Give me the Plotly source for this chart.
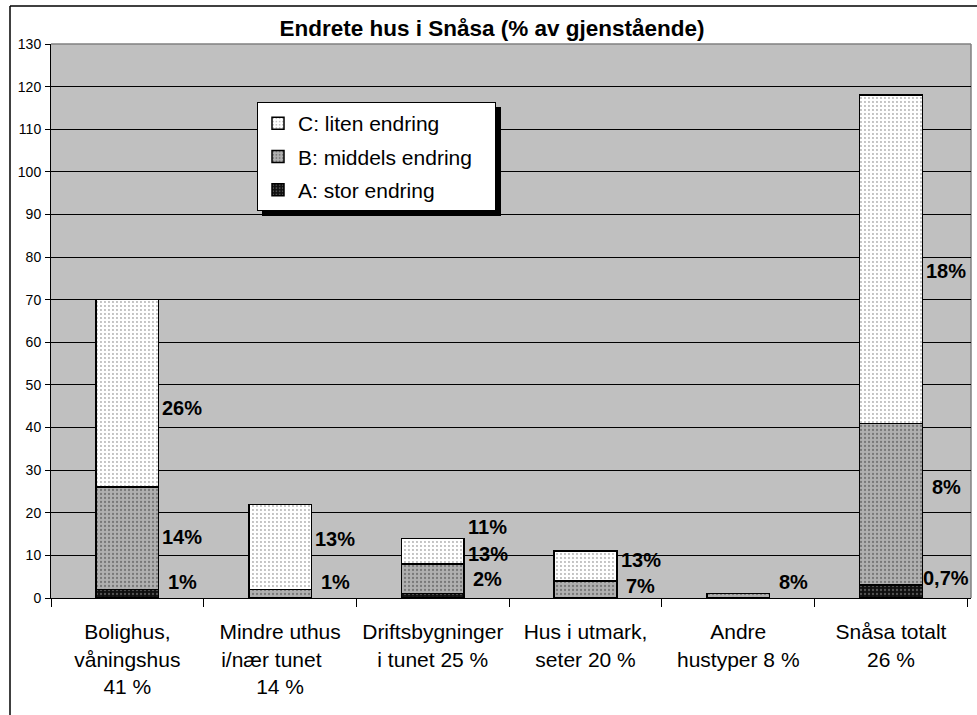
import plotly.graph_objects as go

categories = [
    "Bolighus,<br>våningshus<br>41 %",
    "Mindre uthus<br>i/nær tunet&nbsp;&nbsp;&nbsp;<br>14 %",
    "Driftsbygninger<br>i tunet 25 %",
    "Hus i utmark,<br>seter 20 %",
    "Andre<br>hustyper 8 %",
    "Snåsa totalt<br>26 %",
]
a_stor = [2, 0, 1, 0, 0, 3]
b_middels = [24, 2, 7, 4, 1, 38]
c_liten = [44, 20, 6, 7, 0, 77]

series_names = ["A: stor endring", "B: middels endring", "C: liten endring"]

lbl_a_text = ["1%", "", "2%", "", "", "0,7%"]
lbl_a_y = [3.7, None, 4.4, None, None, 4.7]
lbl_b_text = ["14%", "1%", "13%", "7%", "8%", "8%"]
lbl_b_y = [14.3, 3.7, 10.3, 2.8, 3.8, 26]
lbl_c_text = ["26%", "13%", "11%", "13%", "", "18%"]
lbl_c_y = [44.7, 13.9, 16.7, 8.9, None, 76.7]

y_ticks = list(range(0, 131, 10))

W, H = 977, 715
ML, MR, MT, MB = 51, 6, 44, 117
PW, PH = W - ML - MR, H - MT - MB
FONT = "Arial, Liberation Sans, sans-serif"

def px2x(px):
    return (px - ML) / PW

def px2y(py):
    return (H - MB - py) / PH

fig = go.Figure()
styles = [
    dict(color="#000000", pattern=dict(shape=".", fgcolor="#9a9a9a", bgcolor="#101010", size=4, solidity=0.25)),
    dict(color="#b4b4b4", pattern=dict(shape=".", fgcolor="#404040", bgcolor="#b0b0b0", size=4, solidity=0.25)),
    dict(color="#ffffff", pattern=dict(shape=".", fgcolor="#606060", bgcolor="#ffffff", size=4, solidity=0.18)),
]
n = len(series_names)
for rank, (name, vals, st) in enumerate(zip(series_names, [a_stor, b_middels, c_liten], styles)):
    fig.add_trace(go.Bar(
        x=categories, y=vals, name=name + "&nbsp;" * 3, legendrank=n - rank, legendgroup=name,
        marker=dict(color=st["color"], pattern=st["pattern"], line=dict(color="black", width=1.5)),
    ))

for texts, ys in [(lbl_a_text, lbl_a_y), (lbl_b_text, lbl_b_y), (lbl_c_text, lbl_c_y)]:
    for cat, t, yv in zip(categories, texts, ys):
        if t and yv is not None:
            fig.add_annotation(x=cat, y=yv, text="<b>" + t + "</b>", showarrow=False, xanchor="center",
                               yanchor="middle", xshift=55,
                               font=dict(family=FONT, size=20, color="black"))

# legend shadow
fig.add_shape(type="rect", xref="paper", yref="paper",
              x0=px2x(262), x1=px2x(501), y0=px2y(216), y1=px2y(107),
              fillcolor="black", line=dict(width=0), layer="above")
# outer border (left and top)
fig.add_shape(type="line", xref="paper", yref="paper",
              x0=px2x(10), x1=px2x(10), y0=px2y(720), y1=px2y(6),
              line=dict(color="black", width=1.5))
fig.add_shape(type="line", xref="paper", yref="paper",
              x0=px2x(10), x1=px2x(990), y0=px2y(6), y1=px2y(6),
              line=dict(color="black", width=1.5))
# plot area top/right border
fig.add_shape(type="line", xref="paper", yref="paper", x0=0, x1=1, y0=1, y1=1,
              line=dict(color="#808080", width=1.5), layer="below")
fig.add_shape(type="line", xref="paper", yref="paper", x0=1, x1=1, y0=0, y1=1,
              line=dict(color="#808080", width=1.5), layer="below")

fig.update_layout(
    width=W, height=H,
    margin=dict(l=ML, r=MR, t=MT, b=MB, pad=0, autoexpand=False),
    paper_bgcolor="white",
    plot_bgcolor="#c0c0c0",
    barmode="stack",
    bargap=0.59,
    font=dict(family=FONT, color="black"),
    title=dict(text="<b>Endrete hus i Snåsa (% av gjenstående)</b>",
               x=(279 + 705) / 2 / W, xref="container", xanchor="center",
               y=1 - 28 / H, yref="container", yanchor="middle",
               font=dict(size=22.5, family=FONT, color="black")),
    legend=dict(x=px2x(257), y=px2y(102), xanchor="left", yanchor="top",
                bgcolor="white", bordercolor="black", borderwidth=1,
                font=dict(size=21, family=FONT, color="black"),
                itemwidth=30, tracegroupgap=3,
                traceorder="grouped"),
    showlegend=True,
)
fig.update_xaxes(
    type="category", tickson="boundaries", ticks="outside", ticklen=8,
    tickcolor="black", showline=True, linecolor="black", linewidth=1,
    showgrid=False, tickfont=dict(size=21, family=FONT, color="black"),
    ticklabelstandoff=15, automargin=False,
)
fig.update_yaxes(
    range=[0, 130], tickvals=y_ticks, ticks="outside", ticklen=5, tickcolor="black",
    showline=True, linecolor="black", linewidth=1,
    showgrid=True, gridcolor="black", gridwidth=1, zeroline=False,
    tickfont=dict(size=14, family=FONT, color="black"),
    ticklabelstandoff=1, automargin=False,
)

fig.write_html("out.html", config={"displayModeBar": False},
               post_script="document.body.style.margin='0';")
